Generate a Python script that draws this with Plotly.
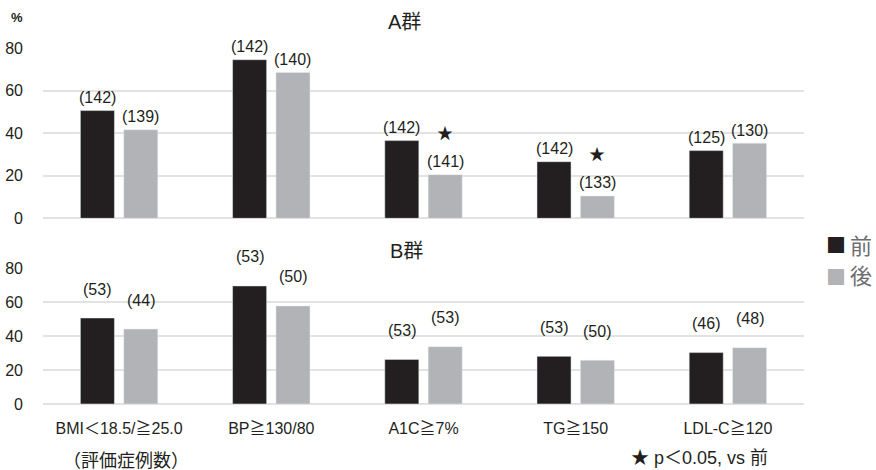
import plotly.graph_objects as go

# Categories and data
categories = ["BMI＜18.5/≧25.0", "BP≧130/80", "A1C≧7%", "TG≧150", "LDL-C≧120"]

a_before = [50.6, 74.5, 36.5, 26.6, 31.8]
a_after = [41.6, 68.5, 20.5, 10.5, 35.3]
a_n_before = [142, 142, 142, 142, 125]
a_n_after = [139, 140, 141, 133, 130]
a_signif = [False, False, True, True, False]

b_before = [50.7, 69.6, 26.3, 28.1, 30.3]
b_after = [44.2, 57.8, 33.8, 25.8, 33.2]
b_n_before = [53, 53, 53, 53, 46]
b_n_after = [44, 50, 53, 50, 48]

y_ticks = [0, 20, 40, 60, 80]

BLACK = "#231f20"
GRAY = "#b2b3b6"
GRID = "#e2e2e2"
TEXT = "#231f20"
LEGEND_TEXT = "#6d6e71"
FONT = "Liberation Sans, Arial, Noto Sans CJK JP, sans-serif"
CJK = "Noto Sans CJK JP, sans-serif"

BARGAP = 0.43
BARGROUPGAP = 0.215
# horizontal offset of each bar centre from its category centre (category units)
OFFSET = (1 - BARGAP) / 4

xs = list(range(len(categories)))

fig = go.Figure()
fig.add_trace(go.Bar(x=xs, y=a_before, name="前", marker_color=BLACK,
                     xaxis="x", yaxis="y"))
fig.add_trace(go.Bar(x=xs, y=a_after, name="後", marker_color=GRAY,
                     xaxis="x", yaxis="y"))
fig.add_trace(go.Bar(x=xs, y=b_before, name="前", marker_color=BLACK,
                     xaxis="x2", yaxis="y2"))
fig.add_trace(go.Bar(x=xs, y=b_after, name="後", marker_color=GRAY,
                     xaxis="x2", yaxis="y2"))

annotations = []


def count_labels(before, after, nb, na, xref, yref, shift):
    for i in xs:
        for xpos, val, n in ((i - OFFSET, before[i], nb[i]), (i + OFFSET, after[i], na[i])):
            annotations.append(dict(x=xpos, y=val, xref=xref, yref=yref,
                                    text=f"({n})", showarrow=False,
                                    xanchor="center", yanchor="middle",
                                    yshift=shift, font=dict(size=16, color=TEXT)))


count_labels(a_before, a_after, a_n_before, a_n_after, "x", "y", 13)
count_labels(b_before, b_after, b_n_before, b_n_after, "x2", "y2", 29)

for i in xs:
    if a_signif[i]:
        annotations.append(dict(x=i + OFFSET, y=a_after[i], xref="x", yref="y",
                                text="★", showarrow=False, xanchor="center",
                                yanchor="middle", yshift=41,
                                font=dict(size=16, color=TEXT)))

W, H = 876, 470
ML, MR, MT, MB = 43, 72, 48, 66
PH = H - MT - MB


def px_to_paper_x(px):
    return (px - ML) / (W - ML - MR)


def px_to_paper_y(py):
    return (H - MB - py) / PH


def page_text(text, px, py, size, color=TEXT, family=None):
    font = dict(size=size, color=color)
    if family:
        font["family"] = family
    annotations.append(dict(text=text, x=px_to_paper_x(px), y=px_to_paper_y(py),
                            xref="paper", yref="paper", showarrow=False,
                            xanchor="center", yanchor="middle", font=font))


page_text("A群", 404, 22, 20)
page_text("B群", 406, 251, 20)
page_text("<b>%</b>", 17, 18, 13)
page_text("（評価症例数）", 126, 461, 18)
page_text("★ p＜0.05, vs 前", 699, 458, 18)

# legend keys
page_text("■", 836, 244, 20, BLACK, CJK)
page_text("前", 861, 244, 22, LEGEND_TEXT, CJK)
page_text("■", 836, 276, 20, GRAY, CJK)
page_text("後", 861, 274, 22, LEGEND_TEXT, CJK)

yaxis_common = dict(range=[0, 80], tickvals=y_ticks, showgrid=True, gridcolor=GRID,
                    gridwidth=1.5, zeroline=True, zerolinecolor=GRID, zerolinewidth=1.5,
                    showline=False, ticks="", ticklabelstandoff=19, automargin=False,
                    tickfont=dict(size=16, color=TEXT))

fig.update_layout(
    width=W, height=H,
    margin=dict(l=ML, r=MR, t=MT, b=MB),
    paper_bgcolor="white", plot_bgcolor="white",
    font=dict(family=FONT, color=TEXT),
    showlegend=False,
    barmode="group", bargap=BARGAP, bargroupgap=BARGROUPGAP,
    xaxis=dict(domain=[0, 1], anchor="y", range=[-0.5, 4.5], tickvals=xs,
               showticklabels=False, ticks="", showgrid=False, zeroline=False,
               automargin=False),
    xaxis2=dict(domain=[0, 1], anchor="y2", range=[-0.5, 4.5], tickvals=xs,
                ticktext=categories, ticks="", showgrid=False, zeroline=False,
                automargin=False, ticklabelstandoff=13,
                tickfont=dict(size=16, color=TEXT)),
    yaxis=dict(domain=[px_to_paper_y(218.3), 1.0], anchor="x", **yaxis_common),
    yaxis2=dict(domain=[0, px_to_paper_y(268.3)], anchor="x2", **yaxis_common),
    annotations=annotations,
)

fig.write_html("out.html")
